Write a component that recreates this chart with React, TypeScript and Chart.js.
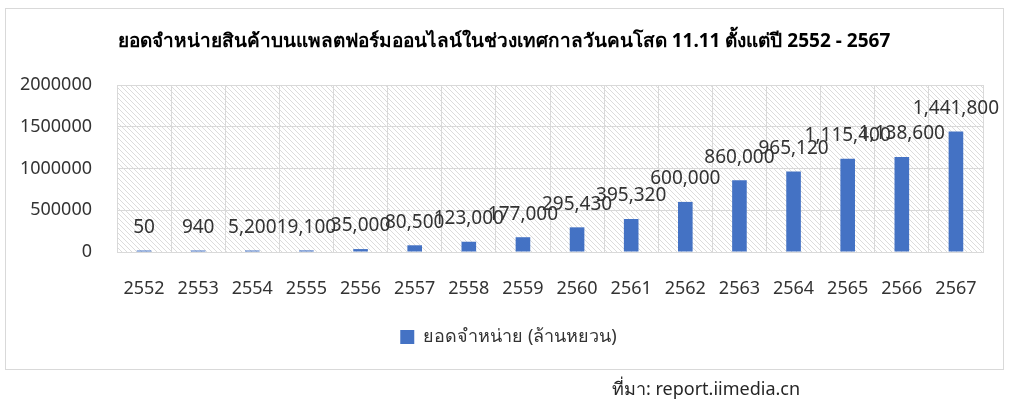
import React, { useEffect, useRef } from "react";
import { Chart, registerables } from "chart.js";

Chart.register(...registerables);

const categories = ["2552", "2553", "2554", "2555", "2556", "2557", "2558", "2559", "2560", "2561", "2562", "2563", "2564", "2565", "2566", "2567"];
const salesValues = [50, 940, 5200, 19100, 35000, 80500, 123000, 177000, 295430, 395320, 600000, 860000, 965120, 1115400, 1138600, 1441800];
const yTickValues = [0, 500000, 1000000, 1500000, 2000000];
const seriesLabel = "ยอดจำหน่าย (ล้านหยวน)";
const titleText = "ยอดจำหน่ายสินค้าบนแพลตฟอร์มออนไลน์ในช่วงเทศกาลวันคนโสด 11.11 ตั้งแต่ปี 2552 - 2567";
const sourceText = "ที่มา: report.iimedia.cn";

const FONT = "'Noto Sans', 'DejaVu Sans', sans-serif";
const TEXT = "#333333";
const GRID = "#d9d9d9";
const BAR = "#4472C4";

function makePattern(): CanvasPattern | string {
  const pc = document.createElement("canvas");
  pc.width = 5;
  pc.height = 5;
  const g = pc.getContext("2d");
  if (!g) return "#eeeeee";
  g.fillStyle = "#ffffff";
  g.fillRect(0, 0, 5, 5);
  g.strokeStyle = "#dcdcdc";
  g.lineWidth = 1;
  g.beginPath();
  g.moveTo(0, 0);
  g.lineTo(5, 5);
  g.moveTo(-1, 4);
  g.lineTo(1, 6);
  g.moveTo(4, -1);
  g.lineTo(6, 1);
  g.stroke();
  const p = g.createPattern(pc, "repeat");
  return p || "#eeeeee";
}

export default function App() {
  const ref = useRef<HTMLCanvasElement | null>(null);

  useEffect(() => {
    document.body.style.margin = "0";
    const canvas = ref.current;
    if (!canvas) return;
    const pattern = makePattern();

    const framePlugin = {
      id: "frame",
      afterLayout(chart: any) {
        const lg = chart.legend;
        if (lg) {
          lg.left += 17;
          lg.right += 17;
        }
      },
      beforeDraw(chart: any) {
        const { ctx, chartArea } = chart;
        ctx.save();
        ctx.fillStyle = "#ffffff";
        ctx.fillRect(0, 0, chart.width, chart.height);
        ctx.strokeStyle = GRID;
        ctx.lineWidth = 1;
        ctx.strokeRect(5.5, 8.5, 998, 361);
        ctx.fillStyle = pattern as any;
        ctx.fillRect(chartArea.left, chartArea.top, chartArea.right - chartArea.left, chartArea.bottom - chartArea.top);
        ctx.fillStyle = "#000000";
        ctx.font = `bold 19px ${FONT}`;
        ctx.textAlign = "center";
        ctx.textBaseline = "middle";
        ctx.fillText(titleText, 504, 42);
        ctx.fillStyle = "#262626";
        ctx.font = `18px ${FONT}`;
        ctx.textAlign = "left";
        ctx.fillText(sourceText, 612, 390);
        ctx.restore();
      },
      afterDatasetsDraw(chart: any) {
        const { ctx } = chart;
        const meta = chart.getDatasetMeta(0);
        ctx.save();
        ctx.fillStyle = TEXT;
        ctx.font = `19px ${FONT}`;
        ctx.textAlign = "center";
        ctx.textBaseline = "middle";
        meta.data.forEach((el: any, i: number) => {
          const v = chart.data.datasets[0].data[i] as number;
          ctx.fillText(v.toLocaleString("en-US"), el.x, el.y - 23);
        });
        ctx.restore();
      },
    };

    const chart = new Chart(canvas, {
      type: "bar",
      data: {
        labels: categories,
        datasets: [
          {
            label: seriesLabel,
            data: salesValues,
            backgroundColor: BAR,
            borderWidth: 0,
            categoryPercentage: 1,
            barPercentage: 0.27,
            minBarLength: 1.5,
          },
        ],
      },
      options: {
        animation: false,
        responsive: false,
        maintainAspectRatio: false,
        devicePixelRatio: 1,
        layout: { padding: { top: 85, left: 0, right: 28, bottom: 58 } },
        plugins: {
          title: { display: false },
          tooltip: { enabled: false },
          legend: {
            display: true,
            position: "bottom",
            labels: {
              boxWidth: 14,
              boxHeight: 14,
              padding: 10,
              color: TEXT,
              font: { family: FONT, size: 18 },
            },
          },
        },
        scales: {
          x: {
            offset: true,
            grid: { color: GRID, drawTicks: false, offset: true },
            border: { color: GRID },
            ticks: {
              color: TEXT,
              font: { family: FONT, size: 18 },
              padding: 26,
              maxRotation: 0,
              autoSkip: false,
            },
            afterFit(scale: any) {
              scale.height = 66;
            },
          },
          y: {
            min: 0,
            max: 2000000,
            afterBuildTicks(scale: any) {
              scale.ticks = yTickValues.map((v) => ({ value: v }));
            },
            grid: { color: GRID, drawTicks: false },
            border: { color: GRID },
            ticks: {
              color: TEXT,
              font: { family: FONT, size: 18 },
              padding: 25,
              callback: (v: any) => String(v),
            },
            afterFit(scale: any) {
              scale.width = 117;
            },
          },
        },
      },
      plugins: [framePlugin],
    });

    return () => chart.destroy();
  }, []);

  return (
    <div style={{ width: 1011, height: 414, position: "relative" }}>
      <canvas ref={ref} width={1011} height={414} style={{ display: "block", width: 1011, height: 414 }} />
    </div>
  );
}
